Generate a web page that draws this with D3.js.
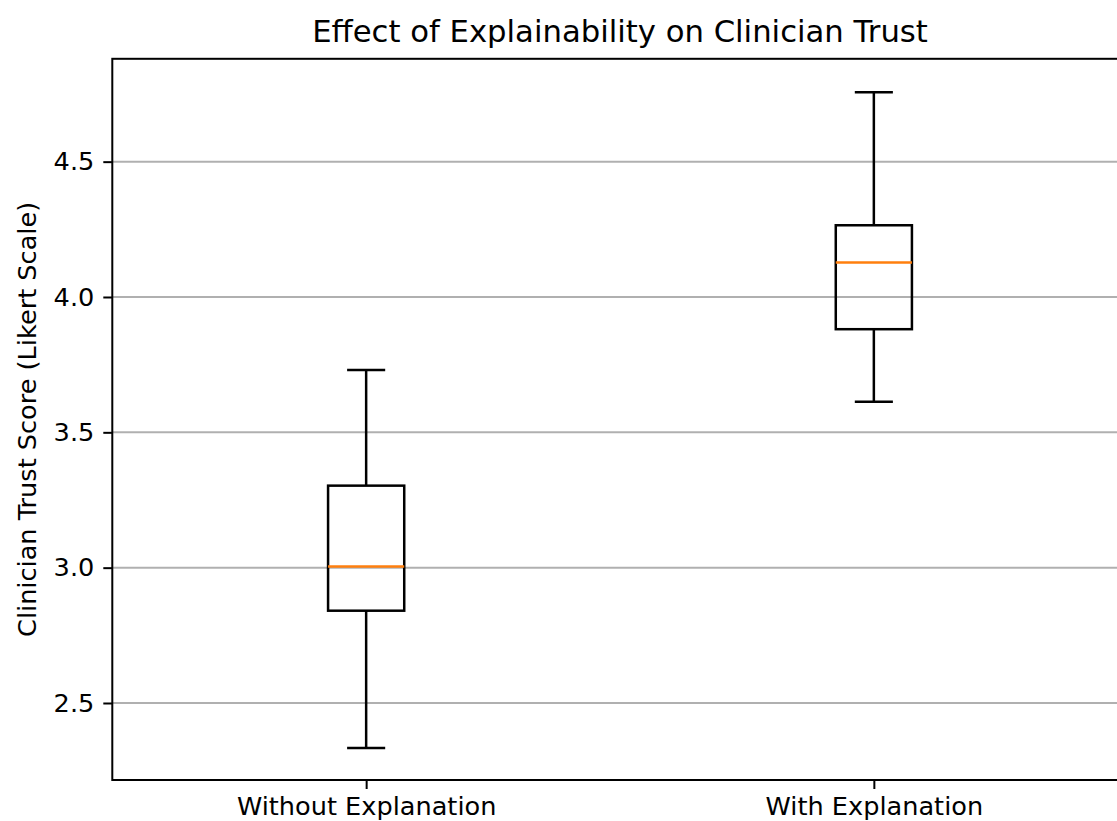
<!DOCTYPE html>
<html>
<head>
<meta charset="utf-8">
<script src="https://cdn.jsdelivr.net/npm/d3@7"></script>
<style>
  body { margin: 0; background: #fff; }
  svg { display: block; font-family: "DejaVu Sans", sans-serif; }
</style>
</head>
<body>
<div class="chart"></div>
<script>
// box stats
var groups = ["Without Explanation", "With Explanation"];
var whiskerLow = [2.334, 3.613];
var q1 = [2.841, 3.881];
var medians = [3.004, 4.127];
var q3 = [3.303, 4.265];
var whiskerHigh = [3.730, 4.756];
var yTicks = [2.5, 3.0, 3.5, 4.0, 4.5];

var svgWidth = 1117, svgHeight = 821;
var plot = { left: 112.3, right: 1127.7, top: 58.8, bottom: 780 };

var svg = d3.select(".chart").append("svg")
    .attr("width", svgWidth)
    .attr("height", svgHeight);

var xScale = d3.scaleLinear().domain([0.5, 2.5]).range([plot.left, plot.right]);
var yScale = d3.scaleLinear().domain([2.2155, 4.880]).range([plot.bottom, plot.top]);

// grid lines (y only)
svg.append("g")
    .selectAll("line")
    .data(yTicks)
    .enter()
    .append("line")
    .attr("x1", plot.left)
    .attr("x2", plot.right)
    .attr("y1", d => yScale(d))
    .attr("y2", d => yScale(d))
    .attr("stroke", "#b0b0b0")
    .attr("stroke-width", 2);

var boxW = 0.15, capW = 0.075;
var boxes = svg.append("g").selectAll("g")
    .data(groups)
    .enter()
    .append("g");

// whiskers
boxes.append("line")
    .attr("x1", (d, i) => xScale(i + 1))
    .attr("x2", (d, i) => xScale(i + 1))
    .attr("y1", (d, i) => yScale(whiskerLow[i]))
    .attr("y2", (d, i) => yScale(q1[i]));
boxes.append("line")
    .attr("x1", (d, i) => xScale(i + 1))
    .attr("x2", (d, i) => xScale(i + 1))
    .attr("y1", (d, i) => yScale(q3[i]))
    .attr("y2", (d, i) => yScale(whiskerHigh[i]));
// caps
boxes.append("line")
    .attr("x1", (d, i) => xScale(i + 1 - capW / 2))
    .attr("x2", (d, i) => xScale(i + 1 + capW / 2))
    .attr("y1", (d, i) => yScale(whiskerLow[i]))
    .attr("y2", (d, i) => yScale(whiskerLow[i]));
boxes.append("line")
    .attr("x1", (d, i) => xScale(i + 1 - capW / 2))
    .attr("x2", (d, i) => xScale(i + 1 + capW / 2))
    .attr("y1", (d, i) => yScale(whiskerHigh[i]))
    .attr("y2", (d, i) => yScale(whiskerHigh[i]));
// box
boxes.append("rect")
    .attr("x", (d, i) => xScale(i + 1 - boxW / 2))
    .attr("width", xScale(1 + boxW / 2) - xScale(1 - boxW / 2))
    .attr("y", (d, i) => yScale(q3[i]))
    .attr("height", (d, i) => yScale(q1[i]) - yScale(q3[i]))
    .attr("fill", "none");
boxes.selectAll("line, rect")
    .attr("stroke", "#000")
    .attr("stroke-width", 2.5);
// median
boxes.append("line")
    .attr("x1", (d, i) => xScale(i + 1 - boxW / 2))
    .attr("x2", (d, i) => xScale(i + 1 + boxW / 2))
    .attr("y1", (d, i) => yScale(medians[i]))
    .attr("y2", (d, i) => yScale(medians[i]))
    .attr("stroke", "#ff7f0e")
    .attr("stroke-width", 2.5);

// axes
var yAxis = d3.axisLeft(yScale).tickValues(yTicks).tickFormat(d3.format(".1f"))
    .tickSize(9).tickPadding(9);
var xAxis = d3.axisBottom(xScale).tickValues([1, 2]).tickFormat((d) => groups[d - 1])
    .tickSize(9).tickPadding(8);

var gy = svg.append("g")
    .attr("transform", `translate(${plot.left},0)`)
    .call(yAxis);
var gx = svg.append("g")
    .attr("transform", `translate(0,${plot.bottom})`)
    .call(xAxis);
[gx, gy].forEach(g => {
    g.select(".domain").remove();
    g.selectAll(".tick line").attr("stroke", "#000").attr("stroke-width", 2);
    g.selectAll(".tick text").attr("fill", "#000")
        .attr("font-size", 25.6).attr("font-family", "DejaVu Sans");
});

// frame
svg.append("rect")
    .attr("x", plot.left)
    .attr("y", plot.top)
    .attr("width", plot.right - plot.left)
    .attr("height", plot.bottom - plot.top)
    .attr("fill", "none")
    .attr("stroke", "#000")
    .attr("stroke-width", 2);

// title & label
svg.append("text")
    .attr("x", (plot.left + plot.right) / 2)
    .attr("y", 42)
    .attr("text-anchor", "middle")
    .attr("font-size", 30.7)
    .text("Effect of Explainability on Clinician Trust");

svg.append("text")
    .attr("transform", `translate(36,${(plot.top + plot.bottom) / 2}) rotate(-90)`)
    .attr("text-anchor", "middle")
    .attr("font-size", 25.6)
    .text("Clinician Trust Score (Likert Scale)");
</script>
</body>
</html>
